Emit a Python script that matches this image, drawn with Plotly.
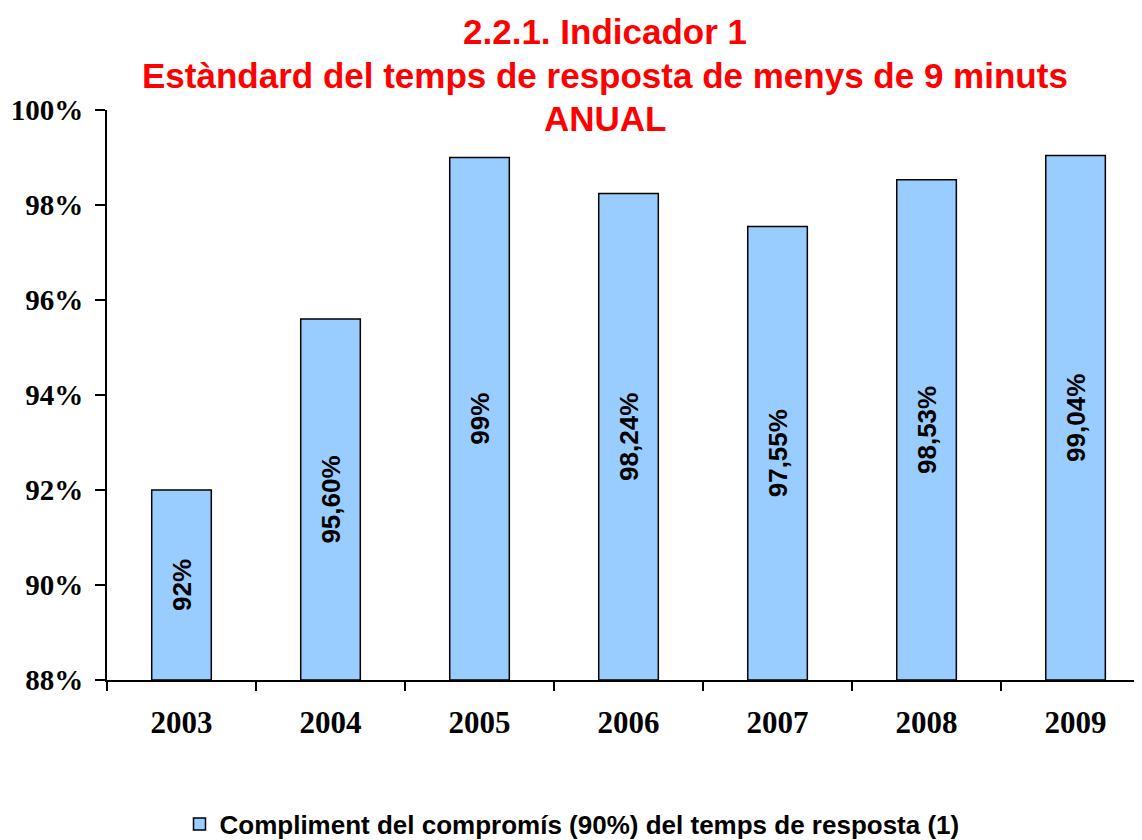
import plotly.graph_objects as go

years = ["2003", "2004", "2005", "2006", "2007", "2008", "2009"]
values = [92.0, 95.60, 99.0, 98.24, 97.55, 98.53, 99.04]
labels = ["92%", "95,60%", "99%", "98,24%", "97,55%", "98,53%", "99,04%"]
y_ticks = [88, 90, 92, 94, 96, 98, 100]
y_tick_text = ["88%", "90%", "92%", "94%", "96%", "98%", "100%"]
series_name = "Compliment del compromís (90%) del temps de resposta (1)"
title_lines = ["2.2.1. Indicador 1", "Estàndard del temps de resposta de menys de 9 minuts", "ANUAL"]

OFF = 8  # page body margin
W, H = 1142 - OFF, 840 - OFF
L, R, T, B = 107 - OFF, 0, 110 - OFF, 160
plot_w = W - L - R
plot_h = H - T - B


def px_x(px):
    return (px - OFF - L) / plot_w


def px_y(py):
    return (H - B - (py - OFF)) / plot_h


fig = go.Figure()
fig.add_trace(go.Bar(
    x=years, y=[v - 88 for v in values], base=88,
    name=series_name,
    marker=dict(color="#99CCFF", line=dict(color="black", width=1.5)),
    width=0.4,
    text=labels, textposition="inside", insidetextanchor="middle",
    textangle=-90,
    textfont=dict(family="Liberation Sans", size=26, color="black", weight="bold"),
    cliponaxis=False,
))

title_y = [31, 75, 118]
for line, ty in zip(title_lines, title_y):
    fig.add_annotation(
        text=line, xref="paper", yref="paper",
        x=px_x(605), y=px_y(ty), xanchor="center", yanchor="middle",
        showarrow=False,
        font=dict(family="Liberation Sans", size=35, color="#FF0000", weight="bold"),
    )

fig.update_layout(
    width=W, height=H,
    paper_bgcolor="white", plot_bgcolor="white",
    margin=dict(l=L, r=R, t=T, b=B, autoexpand=False),
    showlegend=True,
    legend=dict(
        orientation="h", x=px_x(572), xanchor="center", y=px_y(824), yanchor="middle",
        font=dict(family="Liberation Sans", size=26, color="black", weight="bold"),
        bgcolor="rgba(0,0,0,0)", itemwidth=30,
    ),
)
fig.update_xaxes(
    type="category", range=[-0.5, 6.446], automargin=False,
    showline=True, linecolor="black", linewidth=2,
    ticks="outside", ticklen=9, tickwidth=2, tickcolor="black",
    tickson="boundaries", ticklabelstandoff=14,
    tickfont=dict(family="Liberation Serif", size=31, color="black", weight="bold"),
    showgrid=False,
)
fig.update_yaxes(
    range=[88, 100], tickvals=y_ticks, ticktext=y_tick_text, automargin=False,
    showline=True, linecolor="black", linewidth=2,
    ticks="outside", ticklen=10, tickwidth=2, tickcolor="black",
    ticklabelstandoff=6,
    tickfont=dict(family="Liberation Serif", size=29, color="black", weight="bold"),
    showgrid=False, zeroline=False,
)

fig.write_html("out.html")
